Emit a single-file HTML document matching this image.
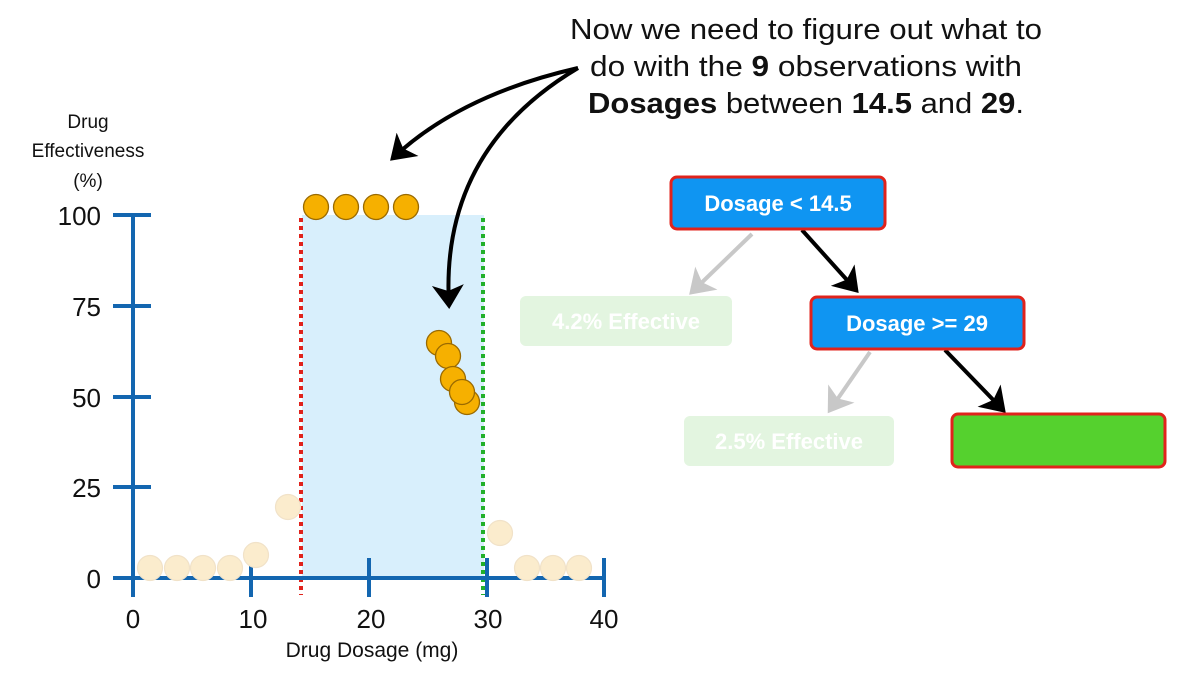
<!DOCTYPE html>
<html><head><meta charset="utf-8"><style>
html,body{margin:0;padding:0;background:#fff;}
svg{display:block;font-family:"Liberation Sans",Arial,sans-serif;}
</style></head><body>
<svg width="1192" height="680" viewBox="0 0 1192 680" xmlns="http://www.w3.org/2000/svg">
<defs>
<marker id="ah" markerWidth="8" markerHeight="8" refX="5" refY="4" orient="auto" markerUnits="strokeWidth"><path d="M0,0 L6,4 L0,8 L1.5,4 z" fill="#000"/></marker>
<marker id="ag" markerWidth="8" markerHeight="8" refX="5" refY="4" orient="auto" markerUnits="strokeWidth"><path d="M0,0 L6,4 L0,8 L1.5,4 z" fill="#c8c8c8"/></marker>
</defs>
<g font-size="29" fill="#111" text-anchor="middle">
<text x="806" y="39" textLength="472" lengthAdjust="spacingAndGlyphs">Now we need to figure out what to</text>
<text x="806" y="76" textLength="432" lengthAdjust="spacingAndGlyphs">do with the <tspan font-weight="bold">9</tspan> observations with</text>
<text x="806" y="113" textLength="436" lengthAdjust="spacingAndGlyphs"><tspan font-weight="bold">Dosages</tspan> between <tspan font-weight="bold">14.5</tspan> and <tspan font-weight="bold">29</tspan>.</text>
</g>
<g font-size="19" fill="#111" text-anchor="middle">
<text x="88" y="128">Drug</text>
<text x="88" y="157">Effectiveness</text>
<text x="88" y="187">(%)</text>
</g>
<rect x="302" y="215" width="182" height="363" fill="#d8effc"/>
<line x1="301" y1="218" x2="301" y2="595" stroke="#e0231c" stroke-width="4" stroke-dasharray="4,4"/>
<line x1="483" y1="218" x2="483" y2="595" stroke="#22b02a" stroke-width="4" stroke-dasharray="4,4"/>
<g stroke="#1366b0" stroke-width="4">
<line x1="133" y1="215" x2="133" y2="597"/>
<line x1="113" y1="578" x2="606" y2="578"/>
<line x1="113" y1="215" x2="151" y2="215"/>
<line x1="113" y1="306" x2="151" y2="306"/>
<line x1="113" y1="397" x2="151" y2="397"/>
<line x1="113" y1="487" x2="151" y2="487"/>
<line x1="251" y1="558" x2="251" y2="597"/>
<line x1="369" y1="558" x2="369" y2="597"/>
<line x1="487" y1="558" x2="487" y2="597"/>
<line x1="604" y1="558" x2="604" y2="597"/>
</g>
<g font-size="26" fill="#111" text-anchor="end">
<text x="101" y="225">100</text>
<text x="101" y="316">75</text>
<text x="101" y="407">50</text>
<text x="101" y="497">25</text>
<text x="101" y="588">0</text>
</g>
<g font-size="26" fill="#111" text-anchor="middle">
<text x="133" y="628">0</text>
<text x="253" y="628">10</text>
<text x="371" y="628">20</text>
<text x="488" y="628">30</text>
<text x="604" y="628">40</text>
</g>
<text x="372" y="657" font-size="21" fill="#111" text-anchor="middle">Drug Dosage (mg)</text>
<g fill="#fbeccd" stroke="#f1e2c8" stroke-width="1.2">
<circle cx="150" cy="568" r="12.5"/><circle cx="177" cy="568" r="12.5"/><circle cx="203" cy="568" r="12.5"/><circle cx="230" cy="568" r="12.5"/>
<circle cx="256" cy="555" r="12.5"/><circle cx="288" cy="507" r="12.5"/><circle cx="500" cy="533" r="12.5"/>
<circle cx="527" cy="568" r="12.5"/><circle cx="553" cy="568" r="12.5"/><circle cx="579" cy="568" r="12.5"/>
</g>
<g fill="#f6b000" stroke="#9a6a00" stroke-width="1.3">
<circle cx="316" cy="207" r="12.5"/><circle cx="346" cy="207" r="12.5"/><circle cx="376" cy="207" r="12.5"/><circle cx="406" cy="207" r="12.5"/>
<circle cx="439" cy="343" r="12.5"/><circle cx="448" cy="356" r="12.5"/><circle cx="467" cy="402" r="12.5"/><circle cx="453" cy="379" r="12.5"/><circle cx="462" cy="392" r="12.5"/>
</g>
<path d="M578,68 Q460,95 393,158" fill="none" stroke="#000" stroke-width="4" marker-end="url(#ah)"/>
<path d="M578,68 Q440,150 449,305" fill="none" stroke="#000" stroke-width="4" marker-end="url(#ah)"/>
<line x1="752" y1="234" x2="692" y2="292" stroke="#c8c8c8" stroke-width="4" marker-end="url(#ag)"/>
<line x1="870" y1="352" x2="830" y2="410" stroke="#c8c8c8" stroke-width="4" marker-end="url(#ag)"/>
<line x1="802" y1="230" x2="856" y2="290" stroke="#000" stroke-width="4" marker-end="url(#ah)"/>
<line x1="945" y1="350" x2="1003" y2="410" stroke="#000" stroke-width="4" marker-end="url(#ah)"/>
<rect x="671" y="177" width="214" height="52" rx="6" fill="#0f95f2" stroke="#e0231c" stroke-width="3"/>
<text x="778" y="211" font-size="22" font-weight="bold" fill="#fff" text-anchor="middle">Dosage &lt; 14.5</text>
<rect x="520" y="296" width="212" height="50" rx="6" fill="#e3f5e0"/>
<text x="626" y="329" font-size="22" font-weight="bold" fill="#fff" text-anchor="middle">4.2% Effective</text>
<rect x="811" y="297" width="213" height="52" rx="6" fill="#0f95f2" stroke="#e0231c" stroke-width="3"/>
<text x="917" y="331" font-size="22" font-weight="bold" fill="#fff" text-anchor="middle">Dosage &gt;= 29</text>
<rect x="684" y="416" width="210" height="50" rx="6" fill="#e3f5e0"/>
<text x="789" y="449" font-size="22" font-weight="bold" fill="#fff" text-anchor="middle">2.5% Effective</text>
<rect x="952" y="414" width="213" height="53" rx="6" fill="#55d12e" stroke="#e0231c" stroke-width="3"/>
</svg>
</body></html>
